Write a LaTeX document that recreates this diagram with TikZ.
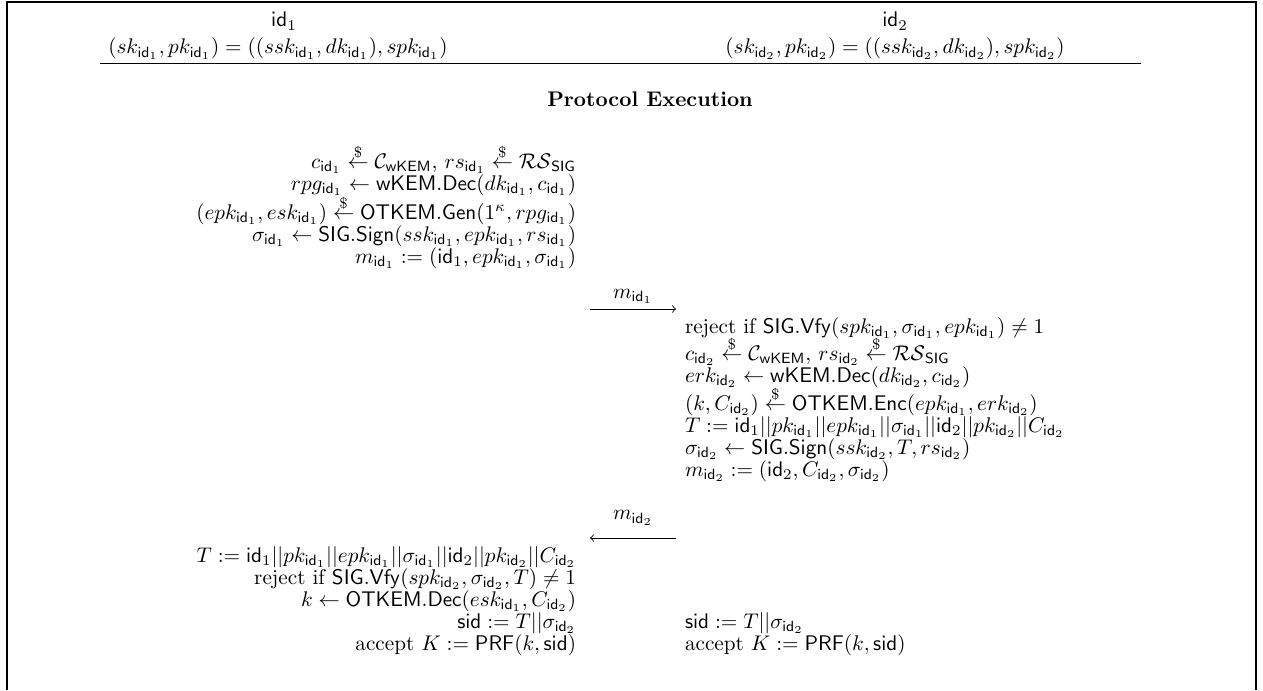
\documentclass[tikz,border=0pt]{standalone}
\usepackage{amssymb}
\usepackage{amsmath}
\usepackage{tikz}
\usetikzlibrary{positioning,arrows}

\newcommand{\randfrom}{\overset{\raisebox{-1.5pt}{$\scriptstyle\$$}}{\leftarrow}}
\newcommand{\pid}[1]{\mathsf{id}_{#1}}

\begin{document}
\begin{tikzpicture}[
		x=0.01658cm, y=-0.01658cm,
		->,>=to,
		thin,
		every node/.style={inner sep=0pt, outer sep=0pt},
		lline/.style={anchor=base east},
		rline/.style={anchor=base west},
		head/.style={anchor=base},
		frame/.style={-, line width=0.6pt}
		]
		\useasboundingbox (0,0) rectangle (1263,690);
		
		% Frame (open at the bottom)
		\draw[frame] (7,690) -- (7,2) -- (1256,2) -- (1256,690);
		
		% Parties and their keys
		\node[head] (id1) at (284,27) {$\pid{1}$};
		\node[head] (id2) at (895,27) {$\pid{2}$};
		\node[head] (key1) at (278,54) {$(sk_{\pid{1}}, pk_{\pid{1}}) = ((ssk_{\pid{1}}, dk_{\pid{1}}), spk_{\pid{1}})$};
		\node[head] (key2) at (895,54) {$(sk_{\pid{2}}, pk_{\pid{2}}) = ((ssk_{\pid{2}}, dk_{\pid{2}}), spk_{\pid{2}})$};
		\coordinate (ruleL) at (100,63);
		\coordinate (ruleR) at (1141,63);
		\draw[-] (ruleL) -- (ruleR);
		
		\node[head] (title) at (650,106) {\textbf{Protocol Execution}};
		
		% Initiator, first part
		\node[lline] (a1) at (576,168) {$c_{\pid{1}} \randfrom \mathcal{C}_{\mathsf{wKEM}},\, rs_{\pid{1}} \randfrom \mathcal{RS}_{\mathsf{SIG}}$};
		\node[lline] (a2) at (576,190) {$rpg_{\pid{1}} \leftarrow \mathsf{wKEM.Dec}(dk_{\pid{1}}, c_{\pid{1}})$};
		\node[lline] (a3) at (576,219) {$(epk_{\pid{1}}, esk_{\pid{1}}) \randfrom \mathsf{OTKEM.Gen}(1^\kappa, rpg_{\pid{1}})$};
		\node[lline] (a4) at (576,241) {$\sigma_{\pid{1}} \leftarrow \mathsf{SIG.Sign}(ssk_{\pid{1}}, epk_{\pid{1}}, rs_{\pid{1}})$};
		\node[lline] (a5) at (576,263) {$m_{\pid{1}} := (\pid{1}, epk_{\pid{1}}, \sigma_{\pid{1}})$};
		
		% First message
		\coordinate (m1s) at (590,309);
		\coordinate (m1e) at (676,309);
		\draw (m1s) -- node[above=2.5pt] (m1) {$m_{\pid{1}}$} (m1e);
		
		% Responder
		\node[rline] (b1) at (685,333) {reject if $\mathsf{SIG.Vfy}(spk_{\pid{1}}, \sigma_{\pid{1}}, epk_{\pid{1}}) \neq 1$};
		\node[rline] (b2) at (685,360) {$c_{\pid{2}} \randfrom \mathcal{C}_{\mathsf{wKEM}},\, rs_{\pid{2}} \randfrom \mathcal{RS}_{\mathsf{SIG}}$};
		\node[rline] (b3) at (685,382) {$erk_{\pid{2}} \leftarrow \mathsf{wKEM.Dec}(dk_{\pid{2}}, c_{\pid{2}})$};
		\node[rline] (b4) at (685,410) {$(k, C_{\pid{2}}) \randfrom \mathsf{OTKEM.Enc}(epk_{\pid{1}}, erk_{\pid{2}})$};
		\node[rline] (b5) at (685,432) {$T := \pid{1}||pk_{\pid{1}}||epk_{\pid{1}}||\sigma_{\pid{1}}||\pid{2}||pk_{\pid{2}}||C_{\pid{2}}$};
		\node[rline] (b6) at (685,454) {$\sigma_{\pid{2}} \leftarrow \mathsf{SIG.Sign}(ssk_{\pid{2}}, T, rs_{\pid{2}})$};
		\node[rline] (b7) at (685,476) {$m_{\pid{2}} := (\pid{2}, C_{\pid{2}}, \sigma_{\pid{2}})$};
		
		% Second message
		\coordinate (m2s) at (676,538);
		\coordinate (m2e) at (590,538);
		\draw (m2s) -- node[above=6pt] (m2) {$m_{\pid{2}}$} (m2e);
		
		% Initiator, second part
		\node[lline] (c1) at (576,562) {$T := \pid{1}||pk_{\pid{1}}||epk_{\pid{1}}||\sigma_{\pid{1}}||\pid{2}||pk_{\pid{2}}||C_{\pid{2}}$};
		\node[lline] (c2) at (576,584) {reject if $\mathsf{SIG.Vfy}(spk_{\pid{2}}, \sigma_{\pid{2}}, T) \neq 1$};
		\node[lline] (c3) at (576,606) {$k \leftarrow \mathsf{OTKEM.Dec}(esk_{\pid{1}}, C_{\pid{2}})$};
		\node[lline] (c4) at (576,628) {$\mathsf{sid} := T||\sigma_{\pid{2}}$};
		\node[lline] (c5) at (576,650) {accept $K := \mathsf{PRF}(k, \mathsf{sid})$};
		
		% Responder, keys
		\node[rline] (d1) at (685,628) {$\mathsf{sid} := T||\sigma_{\pid{2}}$};
		\node[rline] (d2) at (685,650) {accept $K := \mathsf{PRF}(k, \mathsf{sid})$};
	\end{tikzpicture}
\end{document}
